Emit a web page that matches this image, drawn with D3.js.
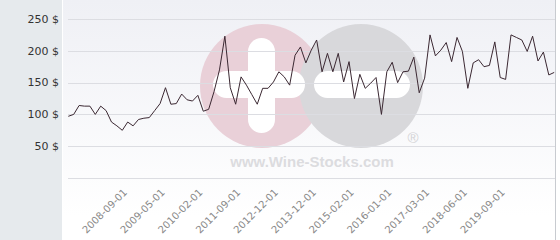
<!DOCTYPE html>
<html>
<head>
<meta charset="utf-8">
<script src="https://cdn.jsdelivr.net/npm/d3@7"></script>
<style>
  body { margin: 0; background: #fff; }
  svg { display: block; font-family: "DejaVu Sans", sans-serif; }
</style>
</head>
<body>
<div id="chart"></div>
<script>
// Price in $ per point (categorical series, one point per quote date)
const prices = [
    97, 100, 114, 113, 113, 100, 113, 106, 88, 82,
    75, 88, 82, 92, 94, 95, 106, 117, 142, 116,
    117, 132, 123, 121, 130, 105, 108, 136, 170, 223,
    142, 116, 159, 146, 131, 116, 141, 141, 151, 167,
    159, 146, 193, 206, 181, 201, 217, 167, 196, 167,
    196, 151, 183, 125, 163, 141, 149, 158, 100, 167,
    182, 150, 167, 168, 190, 134, 157, 225, 192, 201,
    213, 183, 221, 199, 141, 181, 186, 175, 177, 214,
    158, 155, 225, 221, 217, 199, 223, 184, 198, 162,
    166
];

// dates shown on the x axis and the point they belong to
const tickLabels = ['2008-09-01', '2009-05-01', '2010-02-01', '2011-09-01', '2012-12-01',
    '2013-12-01', '2015-02-01', '2016-01-01', '2017-03-01', '2018-06-01', '2019-09-01'];
const tickIndex = [11, 18, 25, 32, 39, 46, 53, 60, 67, 74, 81];

const yTicks = [0, 50, 100, 150, 200, 250];

const width = 560;
const height = 240;
const plot = { left: 63, right: 555, top: 0, bottom: 240 };

const svg = d3.select('#chart').append('svg')
    .attr('width', width)
    .attr('height', height);

const defs = svg.append('defs');
const grad = defs.append('linearGradient')
    .attr('id', 'bg')
    .attr('x1', 0).attr('y1', 0).attr('x2', 0).attr('y2', 1);
grad.append('stop').attr('offset', '0%').attr('stop-color', '#eff0f5');
grad.append('stop').attr('offset', '90%').attr('stop-color', '#ffffff');

// left panel and plot background
svg.append('rect')
    .attr('x', 0).attr('y', 0)
    .attr('width', 62).attr('height', height)
    .attr('fill', '#e6eaed');

svg.append('rect')
    .attr('x', plot.left).attr('y', 0)
    .attr('width', plot.right - plot.left).attr('height', height)
    .attr('fill', 'url(#bg)');

svg.append('line')
    .attr('x1', plot.right + 0.5).attr('x2', plot.right + 0.5)
    .attr('y1', 0).attr('y2', height)
    .attr('stroke', '#c8cbd0');

const x = d3.scalePoint()
    .domain(d3.range(prices.length))
    .range([68.3, 554.2]);

const y = d3.scaleLinear()
    .domain([0, 250])
    .range([178, 19]);

// watermark
const wm = svg.append('g').attr('class', 'watermark');
wm.append('circle').attr('cx', 262).attr('cy', 86).attr('r', 62).attr('fill', '#e9d0d8');
wm.append('circle').attr('cx', 361).attr('cy', 86).attr('r', 62).attr('fill', '#d8d8db');
wm.append('rect').attr('x', 248).attr('y', 38).attr('width', 27).attr('height', 95)
    .attr('rx', 13.5).attr('fill', '#ffffff');
wm.append('rect').attr('x', 213).attr('y', 71).attr('width', 92).attr('height', 27)
    .attr('rx', 13.5).attr('fill', '#ffffff');
wm.append('rect').attr('x', 314).attr('y', 71).attr('width', 96).attr('height', 27)
    .attr('rx', 13.5).attr('fill', '#ffffff');
wm.append('text')
    .attr('x', 312).attr('y', 167)
    .attr('text-anchor', 'middle')
    .attr('font-family', '"Liberation Sans", Arial, sans-serif')
    .attr('font-weight', 'bold')
    .attr('font-size', 15)
    .attr('fill', '#dcdcdf')
    .text('www.Wine-Stocks.com');
wm.append('text')
    .attr('x', 413).attr('y', 143)
    .attr('text-anchor', 'middle')
    .attr('font-family', '"Liberation Sans", Arial, sans-serif')
    .attr('font-size', 15)
    .attr('fill', '#d3d3d6')
    .text('®');

// horizontal grid
svg.append('g')
    .selectAll('line')
    .data(yTicks)
    .join('line')
    .attr('x1', 68).attr('x2', plot.right)
    .attr('y1', d => Math.round(y(d)) + 0.5)
    .attr('y2', d => Math.round(y(d)) + 0.5)
    .attr('stroke', '#dcdde2')
    .attr('stroke-width', 1);

// y labels
svg.append('g')
    .selectAll('text')
    .data(yTicks.filter(d => d > 0))
    .join('text')
    .attr('x', 59)
    .attr('y', d => y(d))
    .attr('dy', '0.35em')
    .attr('text-anchor', 'end')
    .attr('font-size', 11)
    .attr('fill', '#333')
    .text(d => d + ' $');

// x labels
svg.append('g')
    .selectAll('text')
    .data(tickIndex)
    .join('text')
    .attr('transform', d => `translate(${x(d)},${193}) rotate(-45)`)
    .attr('text-anchor', 'end')
    .attr('font-size', 10)
    .attr('fill', '#888')
    .text((d, i) => tickLabels[i]);

// price line
const line = d3.line()
    .x((d, i) => x(i))
    .y(d => y(d));

svg.append('path')
    .datum(prices)
    .attr('d', line)
    .attr('fill', 'none')
    .attr('stroke', '#3b2832')
    .attr('stroke-width', 1)
    .attr('stroke-linejoin', 'round');
</script>
</body>
</html>
